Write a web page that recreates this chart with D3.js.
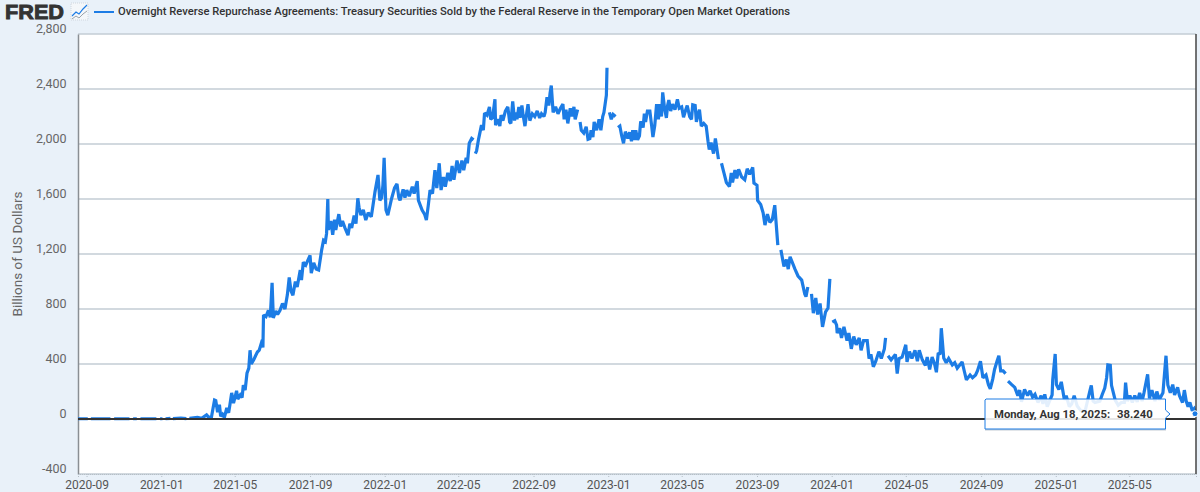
<!DOCTYPE html>
<html>
<head>
<meta charset="utf-8">
<script src="https://cdn.jsdelivr.net/npm/d3@7/dist/d3.min.js"></script>
<style>
    html, body { margin: 0; padding: 0; background: #e9f1f9; overflow: hidden; }
    text { font-family: Roboto, "Noto Sans", sans-serif; }
</style>
</head>
<body>
<div id="chart"></div>
<script>
"use strict";

var chartTitle = "Overnight Reverse Repurchase Agreements: Treasury Securities Sold by the Federal Reserve in the Temporary Open Market Operations";
var yAxisTitle = "Billions of US Dollars";
var tooltipDate = "Monday, Aug 18, 2025:";
var tooltipValue = "38.240";

var yTicks = [-400, 0, 400, 800, 1200, 1600, 2000, 2400, 2800];
var yTickLabels = ["-400", "0", "400", "800", "1,200", "1,600", "2,000", "2,400", "2,800"];
var xTicks = ["2020-09-01", "2021-01-01", "2021-05-01", "2021-09-01", "2022-01-01", "2022-05-01", "2022-09-01",
    "2023-01-01", "2023-05-01", "2023-09-01", "2024-01-01", "2024-05-01", "2024-09-01", "2025-01-01", "2025-05-01"];

// [date, billions], null marks a missing day (the line breaks there)
var obs2020 = [["2020-08-18",2],["2020-09-03",2],["2020-09-05",null],["2020-09-08",2],["2020-10-10",2],["2020-10-14",null],["2020-10-16",2],
    ["2020-11-10",2],["2020-11-13",null],["2020-11-16",2],["2020-11-22",2],["2020-11-25",null],["2020-11-28",2],["2020-12-24",2],["2020-12-27",null],["2020-12-30",2]];
var obs2021 = [["2021-01-03",2],["2021-01-05",null],["2021-01-08",2],["2021-01-16",4],["2021-01-18",null],["2021-01-20",3],["2021-02-02",6],["2021-02-11",3],
    ["2021-02-13",null],["2021-02-16",5],["2021-03-01",12],["2021-03-08",5],["2021-03-16",30],["2021-03-20",10],["2021-03-24",15],["2021-03-29",138],["2021-03-31",134],
    ["2021-04-03",50],["2021-04-06",105],["2021-04-08",20],["2021-04-11",35],["2021-04-14",10],["2021-04-18",80],["2021-04-21",45],["2021-04-23",100],["2021-04-26",190],["2021-04-29",115],["2021-05-01",150],["2021-05-04",205],["2021-05-06",145],
    ["2021-05-10",175],["2021-05-13",155],["2021-05-15",247],["2021-05-18",210],["2021-05-21",333],["2021-05-24",370],["2021-05-26",500],["2021-05-28",400],["2021-06-01",430],["2021-06-04",460],["2021-06-07",487],["2021-06-10",500],["2021-06-15",575],
    ["2021-06-16",520],["2021-06-17",756],["2021-06-21",745],["2021-06-25",790],["2021-06-28",740],["2021-07-01",990],["2021-07-03",735],["2021-07-07",785],["2021-07-10",760],["2021-07-14",790],["2021-07-18",840],["2021-07-22",800],["2021-07-26",905],["2021-07-29",1030],["2021-08-01",930],["2021-08-04",900],
    ["2021-08-08",1000],["2021-08-11",960],["2021-08-16",1083],["2021-08-18",1010],["2021-08-21",1140],["2021-08-25",1120],["2021-08-28",1150],["2021-09-01",1190],["2021-09-03",1060],["2021-09-07",1135],["2021-09-11",1090],["2021-09-15",1083],
    ["2021-09-20",1230],["2021-09-23",1300],["2021-09-26",1290],["2021-09-28",1350],["2021-09-30",1600],["2021-10-01",1375],["2021-10-05",1440],["2021-10-08",1340],["2021-10-11",1450],["2021-10-13",1375],["2021-10-18",1490],
    ["2021-10-21",1400],["2021-10-24",1440],["2021-10-28",1390],["2021-11-02",1337],["2021-11-05",1420],["2021-11-08",1390],["2021-11-12",1480],["2021-11-15",1420],["2021-11-18",1605],["2021-11-20",1540],["2021-11-23",1483],["2021-11-27",1520],["2021-12-01",1447],["2021-12-05",1500],["2021-12-10",1470],
    ["2021-12-13",1560],["2021-12-16",1650],["2021-12-21",1775],["2021-12-24",1590],["2021-12-27",1610],["2021-12-29",1700],["2021-12-31",1900]];
var obs2022 = [["2022-01-03",1520],["2022-01-06",1483],["2022-01-10",1560],["2022-01-12",1600],["2022-01-17",1680],["2022-01-21",1710],["2022-01-24",1610],["2022-01-26",1590],["2022-01-31",1670],["2022-02-03",1610],["2022-02-06",1665],
    ["2022-02-10",1620],["2022-02-15",1690],["2022-02-18",1640],["2022-02-23",1730],["2022-02-25",1590],["2022-03-03",1520],["2022-03-07",1490],["2022-03-10",1447],["2022-03-13",1550],["2022-03-16",1665],["2022-03-20",1640],["2022-03-24",1810],["2022-03-27",1680],["2022-03-29",1760],
    ["2022-03-31",1860],["2022-04-03",1665],["2022-04-07",1760],["2022-04-10",1690],["2022-04-14",1790],["2022-04-18",1730],["2022-04-21",1840],["2022-04-24",1740],["2022-04-29",1880],["2022-05-03",1790],["2022-05-07",1880],["2022-05-10",1810],
    ["2022-05-14",1900],["2022-05-16",1860],["2022-05-19",2005],["2022-05-23",2040],["2022-05-26",2030],["2022-05-27",null],["2022-05-29",1930],["2022-05-31",1950],["2022-06-03",2030],["2022-06-08",2137],["2022-06-11",2100],["2022-06-13",2225],["2022-06-17",2210],
    ["2022-06-21",2270],["2022-06-23",2180],["2022-06-26",2190],["2022-06-30",2325],["2022-07-01",2137],["2022-07-05",2180],["2022-07-08",2130],["2022-07-10",2210],["2022-07-13",2170],["2022-07-17",2240],["2022-07-21",2270],["2022-07-24",2160],["2022-07-26",2150],
    ["2022-07-29",2310],["2022-08-01",2170],["2022-08-03",2230],["2022-08-05",2180],["2022-08-08",2270],["2022-08-10",2190],["2022-08-13",2280],["2022-08-15",2210],["2022-08-18",2130],["2022-08-21",2230],["2022-08-23",2290],["2022-08-26",2170],["2022-08-30",2220],
    ["2022-09-03",2200],["2022-09-07",2240],["2022-09-11",2190],["2022-09-14",2220],["2022-09-18",2200],["2022-09-20",2230],["2022-09-23",2340],["2022-09-26",2280],["2022-09-28",2370],["2022-09-30",2425],["2022-10-03",2230],["2022-10-07",2270],["2022-10-11",2220],
    ["2022-10-15",2260],["2022-10-19",2290],["2022-10-21",2180],["2022-10-24",2250],["2022-10-27",2150],["2022-10-31",2260],["2022-11-03",2200],["2022-11-06",2270],["2022-11-08",2180],["2022-11-12",2250],["2022-11-14",null],["2022-11-16",2160],
    ["2022-11-18",2100],["2022-11-22",2080],["2022-11-26",2125],["2022-11-29",2035],["2022-12-02",2040],["2022-12-04",2100],["2022-12-07",2050],["2022-12-09",2160],["2022-12-13",2100],["2022-12-17",2180],["2022-12-20",2100],["2022-12-23",2200],["2022-12-25",2230],
    ["2022-12-29",2355],["2022-12-30",2554],["2023-01-01",null]];
var obs2023 = [["2023-01-03",2230],["2023-01-06",2180],["2023-01-09",2215],["2023-01-13",2200],["2023-01-15",null],["2023-01-17",2120],["2023-01-20",2130],["2023-01-23",2060],["2023-01-26",2005],["2023-01-29",2090],
    ["2023-02-02",2040],["2023-02-05",2085],["2023-02-08",2020],["2023-02-10",2100],["2023-02-13",2030],["2023-02-15",2100],["2023-02-18",2030],["2023-02-21",2060],["2023-02-23",2165],["2023-02-27",2120],["2023-03-01",2220],["2023-03-03",2160],
    ["2023-03-06",2240],["2023-03-10",2240],["2023-03-13",2130],["2023-03-15",2050],["2023-03-18",2135],["2023-03-21",2290],["2023-03-24",2180],["2023-03-26",2290],["2023-03-29",2200],["2023-03-31",2375],["2023-04-03",2260],["2023-04-06",2190],
    ["2023-04-08",2280],["2023-04-10",2320],["2023-04-13",2240],["2023-04-16",2290],["2023-04-20",2250],["2023-04-24",2325],["2023-04-27",2260],["2023-05-01",2270],["2023-05-04",2195],["2023-05-07",2240],["2023-05-10",2280],["2023-05-14",2200],["2023-05-17",2180],["2023-05-19",2285],
    ["2023-05-23",2280],["2023-05-25",2160],["2023-05-28",2220],["2023-05-30",2250],["2023-06-02",2130],["2023-06-06",2150],["2023-06-10",2130],["2023-06-13",2020],["2023-06-15",1960],["2023-06-18",2010],["2023-06-22",1930],
    ["2023-06-25",2040],["2023-06-30",1890],["2023-07-03",null],["2023-07-05",1860],["2023-07-09",1790],["2023-07-13",1720],["2023-07-18",1690],["2023-07-21",1790],["2023-07-23",1720],["2023-07-27",1810],["2023-07-30",1750],["2023-08-02",1815],
    ["2023-08-07",1760],["2023-08-12",1740],["2023-08-16",1820],["2023-08-20",1780],["2023-08-25",1830],["2023-08-27",1715],["2023-09-01",1700],["2023-09-02",1590],["2023-09-07",1560],["2023-09-11",1500],["2023-09-14",1410],["2023-09-18",1490],
    ["2023-09-22",1430],["2023-09-26",1450],["2023-09-30",1555],["2023-10-05",1265],["2023-10-07",null],["2023-10-10",1230],["2023-10-15",1110],["2023-10-19",1160],["2023-10-22",1090],["2023-10-25",1180],
    ["2023-11-02",1090],["2023-11-07",1040],["2023-11-13",1010],["2023-11-18",910],["2023-11-20",890],["2023-11-23",960],["2023-11-25",null],["2023-11-29",910],["2023-12-02",770],["2023-12-06",880],
    ["2023-12-09",760],["2023-12-13",840],["2023-12-17",670],["2023-12-22",780],["2023-12-26",807],["2023-12-29",1019],["2023-12-31",null]];
var obs2024 = [["2024-01-02",705],["2024-01-06",715],["2024-01-09",683],["2024-01-10",625],["2024-01-14",660],["2024-01-17",590],["2024-01-21",670],["2024-01-26",570],["2024-01-29",625],["2024-02-02",510],["2024-02-06",600],["2024-02-10",540],["2024-02-15",590],
    ["2024-02-18",500],["2024-02-22",570],["2024-02-28",570],["2024-03-02",440],["2024-03-05",470],["2024-03-09",380],["2024-03-13",420],["2024-03-18",490],["2024-03-22",440],["2024-03-27",510],["2024-03-29",590],["2024-04-01",null],
    ["2024-04-02",460],["2024-04-07",430],["2024-04-14",470],["2024-04-17",330],["2024-04-20",440],["2024-04-25",450],["2024-05-01",540],["2024-05-03",415],["2024-05-07",490],["2024-05-11",440],["2024-05-16",500],["2024-05-20",420],
    ["2024-05-23",500],["2024-05-28",430],["2024-06-02",390],["2024-06-05",450],["2024-06-09",360],["2024-06-13",450],["2024-06-17",400],["2024-06-20",340],["2024-06-23",480],["2024-06-26",470],["2024-06-28",660],["2024-07-02",443],
    ["2024-07-06",410],["2024-07-10",440],["2024-07-16",393],["2024-07-20",410],["2024-07-24",370],["2024-08-01",415],["2024-08-05",340],["2024-08-08",285],["2024-08-14",320],["2024-08-18",300],["2024-08-23",320],["2024-08-26",350],
    ["2024-08-31",420],["2024-09-04",300],["2024-09-09",320],["2024-09-13",250],["2024-09-16",220],["2024-09-20",290],["2024-09-23",360],["2024-09-27",420],["2024-09-30",460],["2024-10-03",350],["2024-10-07",350],["2024-10-11",330],["2024-10-14",null],
    ["2024-10-15",276],["2024-10-21",250],["2024-10-26",230],["2024-10-31",170],["2024-11-03",210],["2024-11-06",125],["2024-11-11",215],["2024-11-16",170],["2024-11-20",205],["2024-11-24",160],["2024-11-28",180],["2024-12-03",120],
    ["2024-12-08",170],["2024-12-11",110],["2024-12-14",180],["2024-12-18",90],["2024-12-26",175],["2024-12-27",285],["2024-12-31",473]];
var obs2025 = [["2025-01-02",250],["2025-01-06",215],["2025-01-10",270],["2025-01-15",140],["2025-01-18",170],["2025-01-23",90],["2025-01-27",110],["2025-01-31",170],["2025-02-05",95],["2025-02-11",60],["2025-02-18",60],
    ["2025-02-26",210],["2025-02-28",245],["2025-03-03",130],["2025-03-06",120],["2025-03-14",130],["2025-03-18",180],["2025-03-22",225],["2025-03-25",300],["2025-03-27",393],["2025-03-31",390],["2025-04-02",245],
    ["2025-04-08",138],["2025-04-13",100],["2025-04-18",120],["2025-04-23",120],["2025-04-25",265],["2025-04-28",130],["2025-05-02",170],["2025-05-06",120],["2025-05-10",170],["2025-05-14",125],["2025-05-18",190],["2025-05-22",130],["2025-05-25",190],["2025-05-31",325],
    ["2025-06-03",150],["2025-06-07",210],["2025-06-12",130],["2025-06-15",200],["2025-06-19",140],["2025-06-25",190],["2025-06-30",460],["2025-07-03",247],["2025-07-07",190],["2025-07-11",250],["2025-07-14",175],
    ["2025-07-19",230],["2025-07-22",170],["2025-07-27",120],["2025-07-30",210],["2025-08-02",130],["2025-08-05",90],["2025-08-08",120],["2025-08-12",60],["2025-08-15",75],["2025-08-18",38.24]];

var width = 1200;
var height = 492;
var margin = { top: 34, right: 4, bottom: 18, left: 78 };
var plotWidth = width - margin.left - margin.right;
var plotHeight = height - margin.top - margin.bottom;

var parseDate = d3.utcParse("%Y-%m-%d");

var data = [].concat(obs2020, obs2021, obs2022, obs2023, obs2024, obs2025).map(function (d) {
    return { date: parseDate(d[0]), value: d[1] };
});

var xScale = d3.scaleUtc()
    .domain([parseDate("2020-08-18"), parseDate("2025-08-18")])
    .range([0, plotWidth]);

var yScale = d3.scaleLinear()
    .domain([-400, 2800])
    .range([plotHeight, 0]);

var svg = d3.select("#chart").append("svg")
    .attr("width", width)
    .attr("height", height)
    .style("display", "block");

// header: logo, small chart icon, legend key, title
svg.append("text")
    .attr("x", 5).attr("y", 19)
    .style("font-family", "'Liberation Sans', sans-serif")
    .attr("font-size", 20).attr("font-weight", 700)
    .attr("fill", "#333")
    .attr("stroke", "#333").attr("stroke-width", 0.9)
    .attr("textLength", 59)
    .attr("lengthAdjust", "spacingAndGlyphs")
    .text("FRED");

var icon = svg.append("g").attr("transform", "translate(71,3)");
icon.append("rect").attr("width", 17).attr("height", 17).attr("fill", "#f4f7fa").attr("stroke", "#cfd6dd").attr("stroke-dasharray", "1,1");
icon.append("path").attr("d", "M1,13 L5,9 L8,11 L12,6 L16,2").attr("fill", "none").attr("stroke", "#1c7ce5").attr("stroke-width", 1.2);
icon.append("path").attr("d", "M1,16 L5,13 L8,15 L12,11 L16,8").attr("fill", "none").attr("stroke", "#9aa3ab").attr("stroke-width", 1);

svg.append("line")
    .attr("x1", 94).attr("x2", 114).attr("y1", 12).attr("y2", 12)
    .attr("stroke", "#1c7ce5").attr("stroke-width", 2);

svg.append("text")
    .attr("x", 118).attr("y", 15)
    .attr("font-size", 11.5).attr("font-weight", 500)
    .attr("fill", "#333")
    .attr("textLength", 672)
    .attr("lengthAdjust", "spacingAndGlyphs")
    .text(chartTitle);

var plot = svg.append("g")
    .attr("transform", "translate(" + margin.left + "," + margin.top + ")");

plot.append("rect")
    .attr("width", plotWidth).attr("height", plotHeight)
    .attr("fill", "#fff");

// horizontal grid
plot.selectAll(".grid")
    .data(yTicks.filter(function (d) { return d !== 0; }))
    .enter().append("line")
    .attr("class", "grid")
    .attr("x1", 0).attr("x2", plotWidth)
    .attr("y1", function (d) { return yScale(d); })
    .attr("y2", function (d) { return yScale(d); })
    .attr("stroke", "#c3ccd4").attr("stroke-width", 1.7);

// y axis
var yAxis = d3.axisLeft(yScale)
    .tickValues(yTicks)
    .tickSize(0)
    .tickPadding(11.5)
    .tickFormat(function (d, i) { return yTickLabels[i]; });

var yG = plot.append("g").call(yAxis);
yG.select(".domain").attr("stroke", "#8a8f94").attr("stroke-width", 1.5);
yG.selectAll("text")
    .attr("dy", "-1.5px")
    .style("font-size", "12.5px").attr("fill", "#666");

// x axis
var xAxis = d3.axisBottom(xScale)
    .tickValues(xTicks.map(parseDate))
    .tickSize(3)
    .tickPadding(3)
    .tickFormat(d3.utcFormat("%Y-%m"));

var xG = plot.append("g")
    .attr("transform", "translate(0," + plotHeight + ")")
    .call(xAxis);
xG.select(".domain").attr("stroke", "#b5bec6").attr("stroke-dasharray", "1,1");
xG.selectAll(".tick line").attr("stroke", "#b5bec6").attr("stroke-dasharray", "1,1");
xG.selectAll("text")
    .style("font-size", "12px").attr("fill", "#555");

svg.append("text")
    .attr("transform", "translate(22,254) rotate(-90)")
    .attr("text-anchor", "middle")
    .attr("font-size", 13.5)
    .attr("fill", "#666")
    .text(yAxisTitle);

// series
var line = d3.line()
    .defined(function (d) { return d.value !== null; })
    .x(function (d) { return xScale(d.date); })
    .y(function (d) { return yScale(d.value); });

plot.append("path")
    .datum(data)
    .attr("fill", "none")
    .attr("stroke", "#1c7ce5")
    .attr("stroke-width", 3.2)
    .attr("stroke-linejoin", "miter")
    .attr("stroke-miterlimit", 2)
    .attr("d", line);

// zero line and hover crosshair sit over the series
plot.append("line")
    .attr("x1", 0).attr("x2", plotWidth)
    .attr("y1", yScale(0)).attr("y2", yScale(0))
    .attr("stroke", "#333").attr("stroke-width", 2);

var lastPoint = data[data.length - 1];

plot.append("line")
    .attr("x1", xScale(lastPoint.date)).attr("x2", xScale(lastPoint.date))
    .attr("y1", 0).attr("y2", plotHeight)
    .attr("stroke", "#444").attr("stroke-width", 1.5);

plot.append("circle")
    .attr("cx", xScale(lastPoint.date) - 1)
    .attr("cy", yScale(lastPoint.value))
    .attr("r", 3)
    .attr("fill", "#1c7ce5")
    .attr("stroke", "#fff");

// tooltip
var tip = svg.append("g").attr("transform", "translate(985,399)");

tip.append("path")
    .attr("d", "M0,30.5 L181,30.5")
    .attr("stroke", "#c3ccd4").attr("stroke-width", 2);

tip.append("path")
    .attr("d", "M1,0 L180.5,0 L180.5,11 L185,15 L180.5,19 L180.5,30 L0,30 L0,1 Z")
    .attr("fill", "#fff").attr("fill-opacity", 0.88)
    .attr("stroke", "#1c7ce5").attr("stroke-width", 1);

tip.append("text")
    .attr("x", 9).attr("y", 19)
    .attr("font-size", 11.3).attr("font-weight", 700)
    .attr("fill", "#333")
    .text(tooltipDate);

tip.append("text")
    .attr("x", 132).attr("y", 19)
    .attr("font-size", 11.3).attr("font-weight", 700)
    .attr("fill", "#333")
    .text(tooltipValue);
</script>
</body>
</html>
